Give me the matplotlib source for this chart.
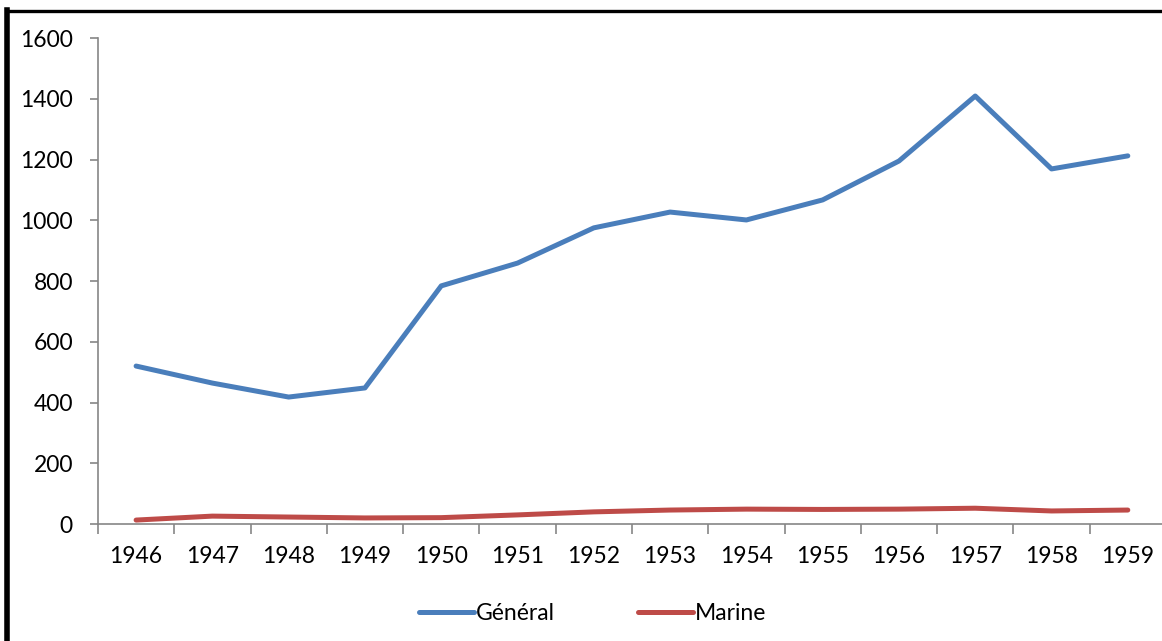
import matplotlib.pyplot as plt
import numpy as np
from matplotlib.lines import Line2D

plt.rcParams["font.family"] = ["Lato", "DejaVu Sans"]

years = ["1946", "1947", "1948", "1949", "1950", "1951", "1952",
         "1953", "1954", "1955", "1956", "1957", "1958", "1959"]
general = [520, 464, 418, 448, 784, 859, 975, 1027, 1001, 1067, 1195, 1409, 1169, 1212]
marine = [13, 26, 23, 20, 21, 30, 40, 46, 49, 48, 49, 52, 43, 46]

BLUE = "#4A7EBB"
RED = "#BE4B48"
AXIS = "#868686"

fig = plt.figure(figsize=(11.62, 6.41), dpi=100)
ax = fig.add_axes([0.0843, 0.1825, 0.9191, 0.7582])

x = np.arange(len(years))
ax.plot(x, general, color=BLUE, lw=3.6, solid_capstyle="round", solid_joinstyle="round", label="Général")
ax.plot(x, marine, color=RED, lw=3.6, solid_capstyle="round", solid_joinstyle="round", label="Marine")

ax.set_xlim(-0.5, len(years) - 0.5)
ax.set_ylim(0, 1600)
ax.set_yticks(range(0, 1601, 200))
ax.set_xticks(x)
ax.set_xticklabels(years)
ax.set_xticks(np.arange(-0.5, len(years)), minor=True)

for s in ["top", "right"]:
    ax.spines[s].set_visible(False)
for s in ["left", "bottom"]:
    ax.spines[s].set_color(AXIS)
    ax.spines[s].set_linewidth(1.2)

ax.tick_params(axis="y", length=6, width=1.2, color=AXIS, labelsize=16.5, pad=12)
ax.tick_params(axis="x", which="major", length=0, labelsize=16.5, pad=16)
ax.tick_params(axis="x", which="minor", length=7, width=1.2, color=AXIS)

fig.legend(loc="center", bbox_to_anchor=(0.51, 0.043), ncol=2, frameon=False,
           fontsize=16.5, handlelength=2.4, handletextpad=0.1, columnspacing=3.6)

# black frame along left and top edges
fig.add_artist(Line2D([7 / 1162, 7 / 1162], [0, 1 - 10 / 641], color="black", lw=4,
                      transform=fig.transFigure, solid_capstyle="projecting"))
fig.add_artist(Line2D([7 / 1162, 1], [1 - 11 / 641, 1 - 11 / 641], color="black", lw=2.4,
                      transform=fig.transFigure))

fig.savefig("out.png", dpi=100, facecolor="white")
